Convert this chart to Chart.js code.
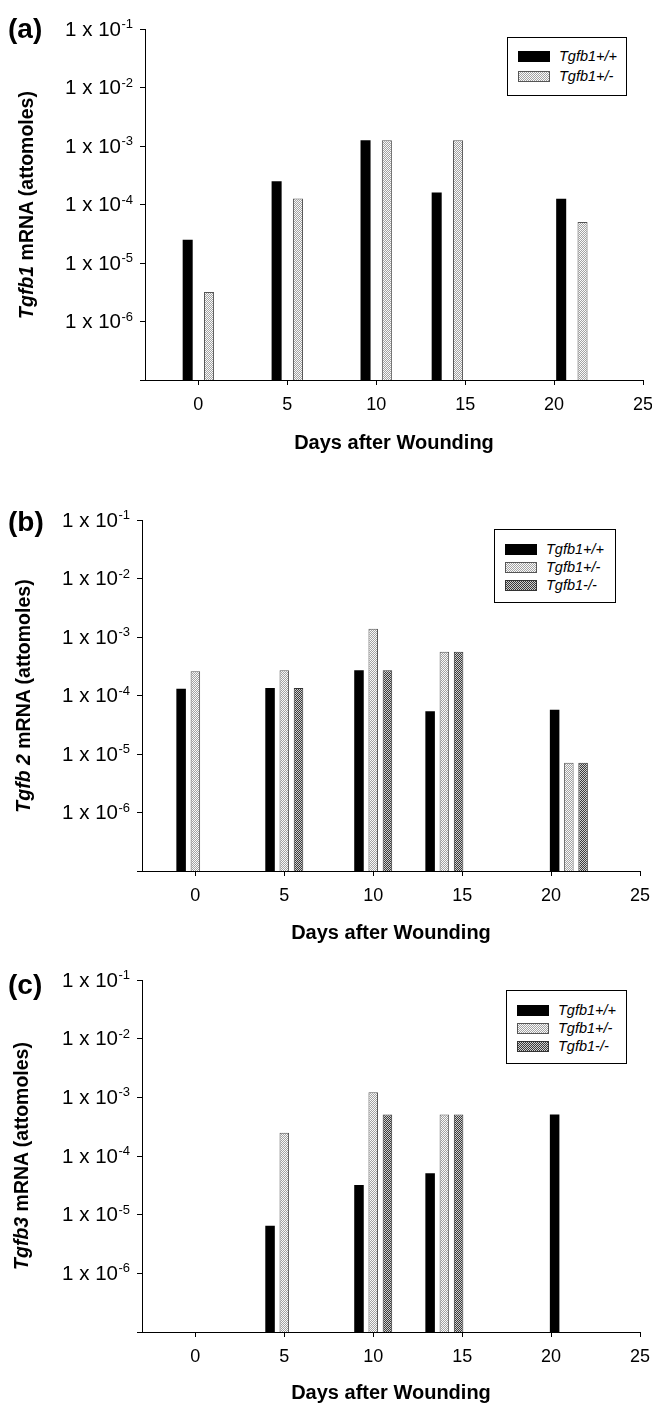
<!DOCTYPE html>
<html>
<head>
<meta charset="utf-8">
<script src="https://cdn.jsdelivr.net/npm/chart.js@4.4.0/dist/chart.umd.min.js"></script>
<style>
  body { margin: 0; background: #fff; }
  #page { position: relative; width: 652px; height: 1405px; font-family: "Liberation Sans", Arial, sans-serif; color: #000; }
  .panel { position: absolute; left: 0; width: 652px; }
  .panel canvas { position: absolute; left: 0; top: 0; }
  .tag { position: absolute; left: 8px; font-size: 28px; font-weight: bold; line-height: 28px; }
  .ytitle { position: absolute; font-size: 19.5px; font-weight: bold; white-space: nowrap; transform: translate(-50%, -50%) rotate(-90deg); }
  .legend { position: absolute; border: 1px solid #000; box-sizing: border-box; background: #fff; }
  .legend .row { display: flex; align-items: center; }
  .legend .sw { width: 32px; height: 11px; margin-left: 10px; margin-right: 9px; box-sizing: border-box; }
  .legend .lab { font-size: 14.5px; font-style: italic; }
</style>
</head>
<body>
<div id="page"></div>
<script>
const FONT = '"Liberation Sans", Arial, sans-serif';

// sampling days (x) and decade ticks (y)
const days = [0, 5, 10, 14, 21];
const yDecades = [1e-7, 1e-6, 1e-5, 1e-4, 1e-3, 1e-2, 1e-1];
const genotypes = ['Tgfb1+/+', 'Tgfb1+/-', 'Tgfb1-/-'];

// (a) Tgfb1 mRNA, attomoles
const tgfb1Wt  = [2.5e-5, 2.5e-4, 1.25e-3, 1.6e-4, 1.25e-4];
const tgfb1Het = [3.2e-6, 1.27e-4, 1.25e-3, 1.25e-3, 5.0e-5];

// (b) Tgfb2 mRNA
const tgfb2Wt  = [1.3e-4, 1.35e-4, 2.7e-4, 5.4e-5, 5.7e-5];
const tgfb2Het = [2.6e-4, 2.7e-4, 1.38e-3, 5.6e-4, 7.1e-6];
const tgfb2Ko  = [null, 1.35e-4, 2.7e-4, 5.6e-4, 7.1e-6];

// (c) Tgfb3 mRNA
const tgfb3Wt  = [null, 6.5e-6, 3.2e-5, 5.1e-5, 5.1e-4];
const tgfb3Het = [null, 2.5e-4, 1.22e-3, 5.1e-4, null];
const tgfb3Ko  = [null, null, 5.1e-4, 5.1e-4, null];

// stipple fills like the old print
function makeTile(a, b) {
    const t = document.createElement('canvas');
    t.width = 2; t.height = 2;
    const c = t.getContext('2d');
    c.fillStyle = a; c.fillRect(0, 0, 2, 2);
    c.fillStyle = b; c.fillRect(1, 0, 1, 1); c.fillRect(0, 1, 1, 1);
    return t;
}
const lightTile = makeTile('#fafafa', '#a2a2a2');
const darkTile = makeTile('#cfcfcf', '#3a3a3a');
const pctx = document.createElement('canvas').getContext('2d');

const styles = [
    { fill: '#000', border: '#000', css: 'background:#000' },
    { fill: pctx.createPattern(lightTile, 'repeat'), border: '#555', css: `background-image:url(${lightTile.toDataURL()});border:1px solid #555` },
    { fill: pctx.createPattern(darkTile, 'repeat'), border: '#333', css: `background-image:url(${darkTile.toDataURL()});border:1px solid #333` }
];

const panels = [
    { tag: '(a)', gene: 'Tgfb1', top: 0, height: 470, areaTop: 29, areaBottom: 380, left: 145, right: 643,
      titleY: 443, tagY: 30, yTitleX: 26, barPct: 0.47,
      legend: { left: 507, top: 37, width: 120, height: 59, pitch: 20, pad: 8 },
      series: [tgfb1Wt, tgfb1Het] },
    { tag: '(b)', gene: 'Tgfb 2', top: 480, height: 480, areaTop: 40, areaBottom: 391, left: 142, right: 640,
      titleY: 453, tagY: 43, yTitleX: 23, barPct: 0.67,
      legend: { left: 494, top: 49, width: 122, height: 74, pitch: 18, pad: 10 },
      series: [tgfb2Wt, tgfb2Het, tgfb2Ko] },
    { tag: '(c)', gene: 'Tgfb3', top: 950, height: 455, areaTop: 30, areaBottom: 382, left: 142, right: 640,
      titleY: 444, tagY: 36, yTitleX: 21, barPct: 0.67,
      legend: { left: 506, top: 40, width: 121, height: 74, pitch: 18, pad: 10 },
      series: [tgfb3Wt, tgfb3Het, tgfb3Ko] }
];

// "1 x 10^-n" labels with a raised exponent
const powerLabels = {
    id: 'powerLabels',
    afterDraw(chart) {
        const s = chart.scales.y;
        const c = chart.ctx;
        c.save();
        c.fillStyle = '#000';
        c.textAlign = 'right';
        c.textBaseline = 'alphabetic';
        s.ticks.forEach(t => {
            if (t.value <= s.min) return;
            const y = s.getPixelForValue(t.value);
            const sup = String(Math.round(Math.log10(t.value)));
            const right = s.right - 12;
            c.font = `13px ${FONT}`;
            const w = c.measureText(sup).width;
            c.fillText(sup, right, y - 1);
            c.font = `20.5px ${FONT}`;
            c.fillText('1 x 10', right - w - 0.5, y + 6.5);
        });
        c.restore();
    }
};

const page = document.getElementById('page');

panels.forEach((p, k) => {
    const box = document.createElement('div');
    box.className = 'panel';
    box.style.top = p.top + 'px';
    box.style.height = p.height + 'px';
    const canvas = document.createElement('canvas');
    canvas.width = 652;
    canvas.height = p.height;
    box.appendChild(canvas);
    page.appendChild(box);

    const tag = document.createElement('div');
    tag.className = 'tag';
    tag.style.top = (p.tagY - 15) + 'px';
    tag.textContent = p.tag;
    box.appendChild(tag);

    const yt = document.createElement('div');
    yt.className = 'ytitle';
    yt.style.left = p.yTitleX + 'px';
    yt.style.top = ((p.areaTop + p.areaBottom) / 2) + 'px';
    yt.innerHTML = `<i>${p.gene}</i> mRNA (attomoles)`;
    box.appendChild(yt);

    const datasets = p.series.map((vals, i) => ({
        label: genotypes[i],
        data: days.map((d, j) => ({ x: d, y: vals[j] })).filter(pt => pt.y !== null),
        backgroundColor: styles[i].fill,
        borderColor: styles[i].border,
        borderWidth: i === 0 ? 0 : 1,
        categoryPercentage: 0.6,
        barPercentage: p.barPct
    }));

    const chart = new Chart(canvas.getContext('2d'), {
        type: 'bar',
        data: { datasets },
        options: {
            responsive: false,
            animation: false,
            devicePixelRatio: 1,
            layout: { padding: { top: p.areaTop, left: 0, right: 652 - p.right, bottom: 0 } },
            plugins: { legend: { display: false }, tooltip: { enabled: false } },
            scales: {
                x: {
                    type: 'linear', min: -3, max: 25, offset: false,
                    grid: { offset: false, drawOnChartArea: false, drawTicks: true, tickLength: 5, color: '#000', tickColor: '#000' },
                    border: { color: '#000', width: 1 },
                    ticks: { stepSize: 5, includeBounds: false, color: '#000', padding: 9, maxRotation: 0, autoSkip: false,
                             font: { size: 18, family: FONT } },
                    title: { display: true, text: 'Days after Wounding', color: '#000',
                             font: { size: 20, weight: 'bold', family: FONT },
                             padding: { top: 0, bottom: Math.max(0, p.height - p.titleY - 12) } },
                    afterFit: s => {
                        s.height = p.height - p.areaBottom;
                        s.paddingLeft = 0;
                        s.paddingRight = 0;
                    }
                },
                y: {
                    type: 'logarithmic', min: 1e-7, max: 1e-1,
                    grid: { drawOnChartArea: false, drawTicks: true, tickLength: 5, color: '#000', tickColor: '#000' },
                    border: { color: '#000', width: 1 },
                    ticks: { callback: () => '', autoSkip: false },
                    afterBuildTicks: s => { s.ticks = yDecades.map(v => ({ value: v })); },
                    afterFit: s => {
                        s.width = p.left;
                        s.paddingTop = 0;
                        s.paddingBottom = 0;
                    }
                }
            }
        },
        plugins: [powerLabels]
    });

    // legend box drawn from the chart's datasets
    const lg = document.createElement('div');
    lg.className = 'legend';
    lg.style.cssText = `left:${p.legend.left}px;top:${p.legend.top}px;width:${p.legend.width}px;height:${p.legend.height}px;padding-top:${p.legend.pad}px`;
    chart.data.datasets.forEach((ds, i) => {
        const row = document.createElement('div');
        row.className = 'row';
        row.style.height = p.legend.pitch + 'px';
        row.innerHTML = `<div class="sw" style="${styles[i].css}"></div><span class="lab">${ds.label}</span>`;
        lg.appendChild(row);
    });
    box.appendChild(lg);
});
</script>
</body>
</html>
